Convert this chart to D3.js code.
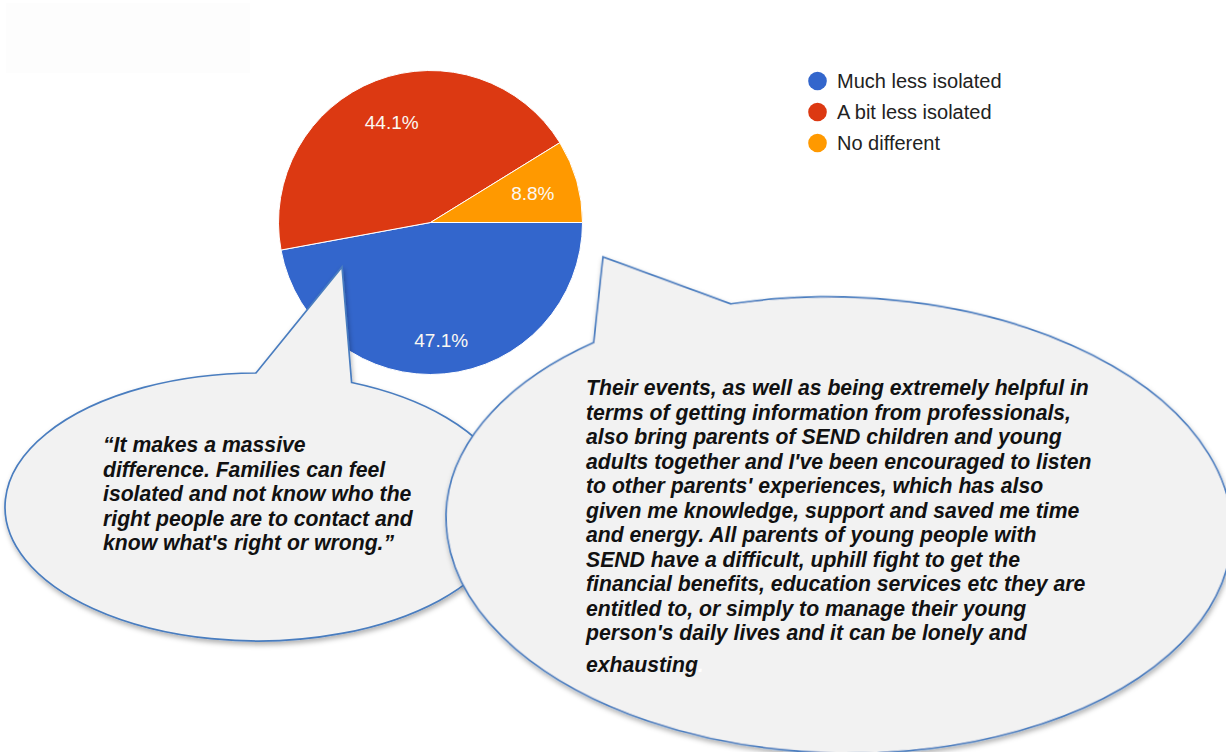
<!DOCTYPE html>
<html>
<head>
<meta charset="utf-8">
<script src="https://cdn.jsdelivr.net/npm/d3@7"></script>
<style>
  html, body { margin: 0; padding: 0; background: #ffffff; }
  svg { display: block; }
</style>
</head>
<body>
<svg id="chart" width="1226" height="752"></svg>
<script>
// Survey answers: how much less isolated parents feel
const categories = ["Much less isolated", "A bit less isolated", "No different"];
const shares = [47.1, 44.1, 8.8];
const sliceColors = ["#3366cc", "#dc3912", "#ff9900"];

// Quotes shown in the two speech bubbles
const quoteShort = [
  "\u201CIt makes a massive",
  "difference. Families can feel",
  "isolated and not know who the",
  "right people are to contact and",
  "know what's right or wrong.\u201D"
];
const quoteLong = [
  "Their events, as well as being extremely helpful in",
  "terms of getting information from professionals,",
  "also bring parents of SEND children and young",
  "adults together and I've been encouraged to listen",
  "to other parents' experiences, which has also",
  "given me knowledge, support and saved me time",
  "and energy. All parents of young people with",
  "SEND have a difficult, uphill fight to get the",
  "financial benefits, education services etc they are",
  "entitled to, or simply to manage their young",
  "person's daily lives and it can be lonely and"
];
const quoteLongLast = "exhausting";

const svg = d3.select("#chart");
const FONT = "'Liberation Sans', Arial, Helvetica, sans-serif";

// faint panel in the upper-left corner
svg.append("rect")
  .attr("x", 6).attr("y", 3).attr("width", 244).attr("height", 70)
  .attr("fill", "#fdfdfd");

// ---- pie ----
const pieCx = 430.5, pieCy = 222.5, pieR = 152;
const pie = d3.pie().sort(null).value(d => d)
  .startAngle(Math.PI / 2).endAngle(Math.PI / 2 + 2 * Math.PI);
const arcs = pie(shares);
const arcGen = d3.arc().innerRadius(0).outerRadius(pieR);
const labelFrac = [0.775, 0.71, 0.70];

const pieG = svg.append("g").attr("transform", `translate(${pieCx},${pieCy})`);
pieG.selectAll("path.slice")
  .data(arcs)
  .join("path")
  .attr("class", "slice")
  .attr("d", arcGen)
  .attr("fill", (d, i) => sliceColors[i])
  .attr("stroke", "#ffffff")
  .attr("stroke-width", 1);

pieG.selectAll("text.pct")
  .data(arcs)
  .join("text")
  .attr("class", "pct")
  .attr("transform", (d, i) => {
    const r = pieR * labelFrac[i];
    const lab = d3.arc().innerRadius(r).outerRadius(r);
    const [x, y] = lab.centroid(d);
    return `translate(${x},${y})`;
  })
  .attr("text-anchor", "middle")
  .attr("dy", "0.36em")
  .attr("font-family", FONT)
  .attr("font-size", 19)
  .attr("fill", "#fbf8f2")
  .text((d, i) => d3.format(".1f")(shares[i]) + "%");

// ---- legend ----
const legY = d3.scalePoint().domain(categories).range([81, 143]);
const leg = svg.append("g");
leg.selectAll("circle")
  .data(categories)
  .join("circle")
  .attr("cx", 817.5)
  .attr("cy", d => legY(d))
  .attr("r", 9.3)
  .attr("fill", (d, i) => sliceColors[i]);
leg.selectAll("text")
  .data(categories)
  .join("text")
  .attr("x", 837)
  .attr("y", d => legY(d))
  .attr("dy", "0.36em")
  .attr("font-family", FONT)
  .attr("font-size", 20)
  .attr("fill", "#222222")
  .text(d => d);

// ---- speech bubbles ----
const defs = svg.append("defs");
const f = defs.append("filter").attr("id", "bubbleShadow")
  .attr("x", "-10%").attr("y", "-10%").attr("width", "120%").attr("height", "125%");
f.append("feDropShadow")
  .attr("dx", 1).attr("dy", 3).attr("stdDeviation", 2.5)
  .attr("flood-color", "#000000").attr("flood-opacity", 0.3);

// ellipse callout: the body runs clockwise from baseA round to baseB, then a wedge to the tip
function callout(e, baseA, baseB, tip) {
  const rad = e.rot * Math.PI / 180;
  const toLocal = ([px, py]) => {
    const dx = px - e.cx, dy = py - e.cy;
    return [dx * Math.cos(rad) + dy * Math.sin(rad), -dx * Math.sin(rad) + dy * Math.cos(rad)];
  };
  const snap = p => {
    const [lx, ly] = toLocal(p);
    const t = Math.atan2(ly / e.ry, lx / e.rx);
    return [e.rx * Math.cos(t), e.ry * Math.sin(t)];
  };
  const a = snap(baseA), b = snap(baseB), t = toLocal(tip);
  const d = `M${a[0]},${a[1]} A${e.rx},${e.ry} 0 1 1 ${b[0]},${b[1]} L${t[0]},${t[1]} Z`;
  svg.append("path")
    .attr("transform", `translate(${e.cx},${e.cy}) rotate(${e.rot})`)
    .attr("d", d)
    .attr("fill", "#f2f2f2")
    .attr("stroke", "#4a7dbf")
    .attr("stroke-width", 1.7)
    .attr("stroke-linejoin", "miter")
    .attr("filter", "url(#bubbleShadow)");
}

// small bubble (left), tail pointing into the blue slice
callout({ cx: 258, cy: 507, rx: 253, ry: 134, rot: 0 }, [352, 382], [256, 374], [342, 267]);

const textStyle = sel => sel
  .attr("font-family", FONT)
  .attr("font-size", 21.2)
  .attr("font-weight", "bold")
  .attr("font-style", "italic")
  .attr("fill", "#111111");

const t1 = svg.append("text").call(textStyle);
t1.selectAll("tspan")
  .data(quoteShort)
  .join("tspan")
  .attr("x", 103)
  .attr("y", (d, i) => 452 + i * 24.5)
  .text(d => d);

// large bubble (right)
callout({ cx: 839, cy: 525, rx: 393, ry: 228, rot: 1.5 }, [731, 304], [597, 345], [603, 257]);

const t2 = svg.append("text").call(textStyle);
t2.selectAll("tspan")
  .data(quoteLong)
  .join("tspan")
  .attr("x", 586)
  .attr("y", (d, i) => 395 + i * 24.5)
  .text(d => d);
const last = svg.append("text").call(textStyle)
  .attr("x", 586).attr("y", 672);
last.append("tspan").text(quoteLongLast);
last.append("tspan").attr("fill", "#ffffff").text(".");
</script>
</body>
</html>
